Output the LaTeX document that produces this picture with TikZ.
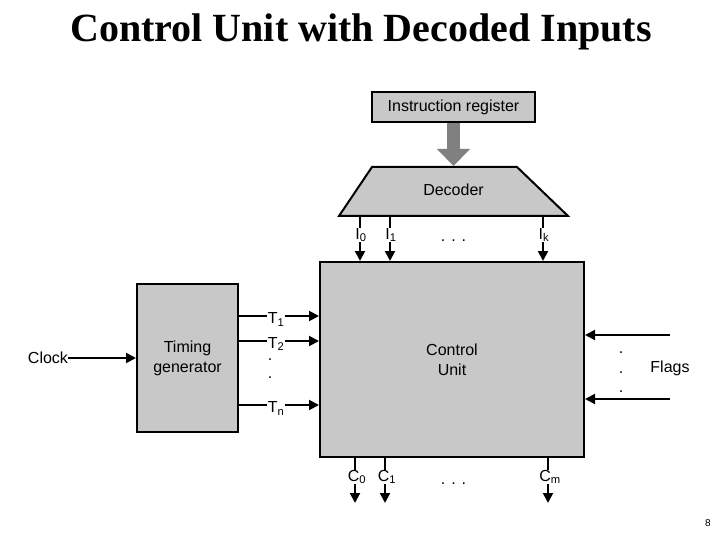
\documentclass[tikz,border=0pt]{standalone}
\usepackage{fontspec}
\setmainfont{Liberation Sans}
\newfontfamily\titlefont{Liberation Serif}
\usetikzlibrary{arrows.meta}
\definecolor{boxgray}{RGB}{200,200,200}
\definecolor{arrgray}{RGB}{128,128,128}
\tikzset{
  box/.style={draw=black, line width=2pt, fill=boxgray, align=center, font=\fontsize{16}{20}\selectfont},
  arr/.style={line width=2pt, -{Triangle[length=10pt,width=10pt]}},
  lbl/.style={font=\fontsize{16}{18}\selectfont, fill=white, inner sep=0.5pt},
  txt/.style={font=\fontsize{16}{18}\selectfont, inner sep=0pt},
  dotstyle/.style={font=\fontsize{16}{18}\selectfont, inner sep=0pt, anchor=base}
}
\begin{document}
\begin{tikzpicture}[x=1pt,y=-1pt]
\useasboundingbox (0,0) rectangle (720,540);
% title
\node[inner sep=0pt, font=\titlefont\fontsize{40}{46}\selectfont\bfseries] (title) at (361,32) {Control Unit with Decoded Inputs};
% instruction register
\node[box, minimum width=163pt, minimum height=30pt, inner sep=0pt] (ir) at (453.5,107) {Instruction register};
% decoder
\draw[line width=2pt, fill=boxgray] (372,167) -- (517,167) -- (568,216) -- (339,216) -- cycle;
\node[txt] (dec) at (453.5,190) {Decoder};
\coordinate (dectop) at (453.5,166);
\draw[line width=13pt, arrgray, -{Triangle[length=17pt,width=32pt]}] (ir.south) -- (dectop);
% control unit
\node[box, minimum width=264pt, minimum height=195pt, inner sep=0pt] (cu) at (452,359.5) {Control\\Unit};
% timing generator
\node[box, minimum width=101pt, minimum height=148pt, inner sep=0pt] (tg) at (187.5,358) {Timing\\generator};
% clock
\node[txt] (clock) at (48,358) {Clock};
\draw[arr] (clock.east) -- (tg.west);
% decoder outputs
\coordinate (i0) at (360,216);
\coordinate (i1) at (390,216);
\coordinate (ik) at (543,216);
\draw[arr] (i0) -- (i0 |- cu.north);
\draw[arr] (i1) -- (i1 |- cu.north);
\draw[arr] (ik) -- (ik |- cu.north);
\node[lbl] (li0) at (361,235) {I\textsubscript{0}};
\node[lbl] (li1) at (391,235) {I\textsubscript{1}};
\node[lbl] (lik) at (544,235) {I\textsubscript{k}};
\node[dotstyle] (idots) at (453.5,241) {. . .};
% timing outputs
\coordinate (t1) at (tg.east |- 0,316);
\coordinate (t2) at (tg.east |- 0,341);
\coordinate (tn) at (tg.east |- 0,405);
\draw[arr] (t1) -- (t1 -| cu.west);
\draw[arr] (t2) -- (t2 -| cu.west);
\draw[arr] (tn) -- (tn -| cu.west);
\node[lbl] (lt1) at (276,319.5) {T\textsubscript{1}};
\node[lbl] (lt2) at (276,344) {T\textsubscript{2}};
\node[lbl] (ltn) at (276,408.5) {T\textsubscript{n}};
\node[dotstyle] (td1) at (270,360) {.};
\node[dotstyle] (td2) at (270,378) {.};
% flags
\node[txt] (flags) at (670,368) {Flags};
\coordinate (f1) at (670,335);
\coordinate (f2) at (670,399);
\draw[arr] (f1) -- (f1 -| cu.east);
\draw[arr] (f2) -- (f2 -| cu.east);
\node[dotstyle] (fd1) at (621,353) {.};
\node[dotstyle] (fd2) at (621,373) {.};
\node[dotstyle] (fd3) at (621,392) {.};
% control outputs
\coordinate (c0) at (355,503);
\coordinate (c1) at (385,503);
\coordinate (cm) at (548,503);
\draw[arr] (c0 |- cu.south) -- (c0);
\draw[arr] (c1 |- cu.south) -- (c1);
\draw[arr] (cm |- cu.south) -- (cm);
\node[lbl] (lc0) at (357,477) {C\textsubscript{0}};
\node[lbl] (lc1) at (387,477) {C\textsubscript{1}};
\node[lbl] (lcm) at (550,477) {C\textsubscript{m}};
\node[dotstyle] (cdots) at (453.5,484) {. . .};
% page number
\node[inner sep=0pt, font=\fontsize{10}{12}\selectfont] (page) at (708,523) {8};
\end{tikzpicture}
\end{document}
